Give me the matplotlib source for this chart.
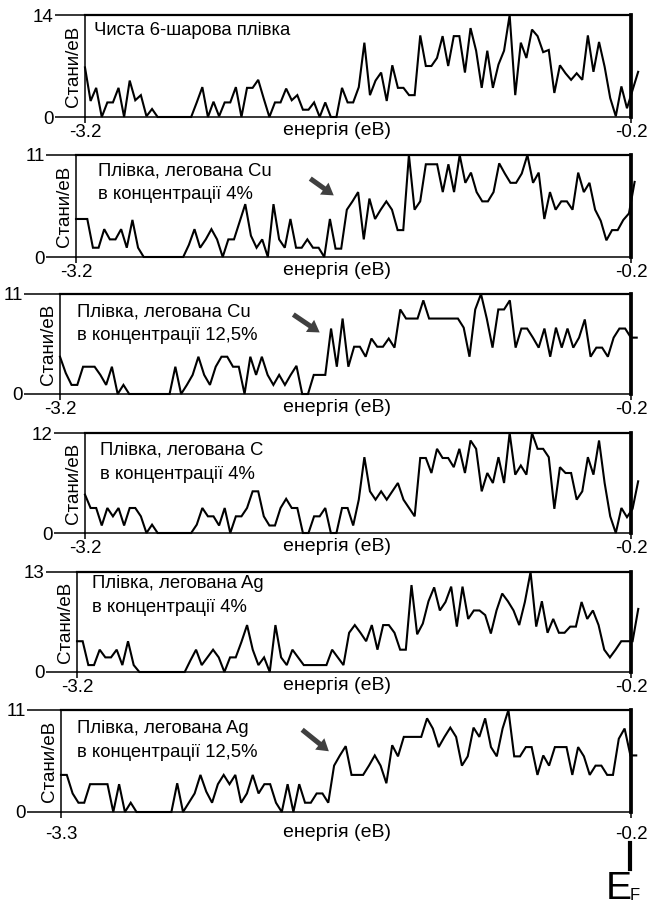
"""Density of states of a 6-layer film, clean and doped, six stacked panels."""

import numpy as np
import matplotlib
matplotlib.use("Agg")
import matplotlib.pyplot as plt
from matplotlib.lines import Line2D
from matplotlib.patches import FancyArrowPatch
from matplotlib.transforms import offset_copy

plt.rcParams["font.family"] = ["Liberation Sans", "DejaVu Sans"]

# ---- data (states/eV, one value per energy step) ----
clean = [6.8, 2.2, 4, 0, 2, 2, 4, 0, 5, 2.3, 3, 0.1, 1.1, 0, 0, 0, 0, 0, 0, 0,
         2, 4.1, 0, 2.1, 0.1, 2, 2, 4.1, 0, 4, 4, 5.1, 2.5, 0, 2, 2, 3.9, 2.3, 3, 1,
         1, 2, 0, 2, 0, 0, 4, 2, 2, 4.1, 10.2, 3, 5, 6.1, 2.2, 7.1, 4, 4, 3, 3,
         11.2, 7, 7, 8.1, 11.1, 7, 11.1, 11.1, 6.1, 12.2, 9.1, 4, 9.1, 4, 7.2, 9.1, 14, 3, 10.2, 8.1,
         12, 11.1, 8.9, 9.2, 3.3, 7.1, 6, 5.1, 6, 5.1, 11.2, 6.2, 10.3, 6.9, 2.6, 0.1, 4.2, 1.2, 3.7, 6.2]
cu_4 = [4.1, 4.1, 4.1, 1, 1, 3, 1.9, 1.9, 3, 1, 4, 1, 0, 0, 0, 0, 0, 0, 0, 0,
        1.3, 3, 1, 1.9, 3, 1.9, 0, 1.9, 1.9, 3.8, 5.7, 2.3, 1, 1.9, 0, 5.7, 1.9, 1, 4.1, 1,
        1, 1.9, 1, 1, 0, 4.1, 0.9, 0.9, 5.1, 6, 7, 1.9, 6.3, 4.1, 5.1, 6, 5.1, 2.9, 2.9, 11,
        5.1, 6, 10, 10, 10, 7, 10, 7, 11, 8, 9.1, 7, 6, 6, 7, 10.1, 9, 8, 8, 9,
        11, 8, 9.1, 4.1, 7, 5.1, 6, 6, 5.1, 9.1, 7, 8, 5.1, 3.9, 1.8, 2.9, 2.9, 4, 4.7, 8.1]
cu_12 = [4.1, 2.3, 1, 1, 3, 3, 3, 2.1, 1, 3, 0, 1, 0, 0, 0, 0, 0, 0, 0, 0,
         3, 0, 1, 2.1, 4.1, 2.1, 1, 3, 4.1, 4.1, 3, 3, 0, 4.1, 2.1, 4.1, 2.1, 1, 2.1, 1,
         2.1, 3.1, 0, 0, 2.1, 2.1, 2.1, 7.2, 3, 8.3, 3, 5.2, 5.2, 4.1, 6.1, 5.2, 5.2, 6.1, 5.1, 9.3,
         8.3, 8.3, 8.3, 10.3, 8.3, 8.3, 8.3, 8.3, 8.3, 8.3, 7.3, 4.1, 9.3, 11, 8.3, 5.1, 9.3, 9.3, 10.3, 5.1,
         7.2, 7.2, 6.2, 5.1, 7.2, 4.1, 7.3, 5.1, 7.2, 5.1, 6.2, 8.2, 4.1, 5.1, 5.1, 4.1, 6.2, 7.2, 7.2, 6.2,
         6.2]
c_4 = [4.6, 3, 3, 0.9, 3, 2, 3, 0.9, 3, 3, 2, 0, 1, 0, 0, 0, 0, 0, 0, 0,
       1, 3, 2, 2, 0.9, 3, 0, 2, 2, 3, 5, 5, 2, 0.9, 0.9, 3, 4.1, 3, 3, 0,
       0, 2, 2, 3, 0, 0, 3, 3, 0.9, 4, 9.1, 5, 4, 5, 4, 5, 6, 4, 3, 2,
       9, 9, 7.2, 10.1, 9, 9, 7.9, 10.1, 7.2, 11.1, 10.1, 5, 7.2, 6, 9.1, 6, 12, 7, 8.1, 7,
       12, 10.1, 10.1, 9.1, 2.9, 7.9, 7.2, 7.2, 4, 5, 9.1, 7, 11.1, 6, 2, 0, 3, 1.9, 2.9, 6.2]
ag_4 = [4, 4, 0.9, 0.9, 2.9, 1.9, 1.9, 2.9, 0.9, 4, 0.9, 0, 0, 0, 0, 0, 0, 0, 0, 0,
        1.5, 2.9, 0.9, 1.9, 2.9, 1.9, 0, 1.9, 1.9, 3.9, 6.1, 2.9, 0.9, 1.9, 0, 6.1, 1.9, 0.9, 2.9, 1.9,
        0.9, 0.9, 0.9, 0.9, 0.9, 2.9, 1.9, 0.9, 5.1, 6.1, 5.1, 4, 6.1, 2.9, 6.1, 6.1, 5.1, 2.9, 2.9, 11.3,
        4.9, 6.3, 9.2, 11, 8, 9.1, 11.1, 5.9, 11.1, 6.9, 8, 8, 7.4, 5, 8, 10.2, 9.2, 8, 6.1, 9.1,
        13, 5.9, 9.2, 5.1, 6.9, 5.1, 5.1, 5.9, 5.9, 9.1, 6.9, 8, 6.1, 2.9, 1.9, 2.9, 4, 4, 4, 8.2]
ag_12 = [4, 4, 2, 1, 1, 3, 3, 3, 3, 0, 3, 0, 1, 0, 0, 0, 0, 0, 0, 0,
         3.1, 0, 1, 2, 4, 2.2, 1, 3, 4, 3, 4, 1, 2, 4, 2, 3, 3, 1, 0, 3,
         0, 3, 1, 1, 2, 2, 1, 5, 6.1, 7.1, 4, 4, 4, 5, 6.1, 5, 3.1, 7.2, 6, 8.1,
         8.1, 8.1, 8.1, 10.1, 9, 7, 8.1, 9.1, 8.1, 5, 6, 9.1, 8.1, 10.1, 7, 6, 9, 11, 6, 6,
         7, 7, 4, 6.1, 5, 7, 7, 7, 4, 7, 6, 4, 5, 5, 4, 4, 7.9, 9, 6.1, 6.1]

series = [clean, cu_4, cu_12, c_4, ag_4, ag_12]
e_start = [-3.2, -3.2, -3.2, -3.2, -3.2, -3.3]
e_step = [0.0307, 0.0305, 0.0303, 0.0307, 0.0307, 0.0316]
e_end = -0.2
y_max = [14, 11, 11, 12, 13, 11]
x_ticklabels = [["-3.2", "-0.2"]] * 5 + [["-3.3", "-0.2"]]
captions = [
    ["Чиста 6-шарова плівка"],
    ["Плівка, легована Cu", "в концентрації 4%"],
    ["Плівка, легована Cu", "в концентрації 12,5%"],
    ["Плівка, легована С", "в концентрації 4%"],
    ["Плівка, легована Ag", "в концентрації 4%"],
    ["Плівка, легована Ag", "в концентрації 12,5%"],
]

# ---- layout in pixels of the 651x907 canvas ----
W, H = 651, 907
boxes = [(85, 15, 631, 117), (76, 155, 631, 257), (60, 294, 631, 394),
         (85, 433, 631, 533), (77, 572, 631, 672), (61, 710, 631, 812)]
ytick_len = [30, 30, 36, 31, 31, 34]
xlab_gap = [7, 7, 7, 7, 7, 14]
caption_xy = [(94, 35), (98, 175), (77, 316), (100, 455), (92, 588), (77, 733)]
arrows = {1: ((308, 177), (336, 197)), 2: ((291, 313), (322, 334)), 5: ((300, 728), (331, 753))}


def fx(px):
    return px / W


def fy(py):
    return 1 - py / H


fig = plt.figure(figsize=(W / 100, H / 100), dpi=100)

for k, y in enumerate(series):
    l, t, r, b = boxes[k]
    ax = fig.add_axes([fx(l), fy(b), fx(r - l), (b - t) / H])
    x = e_start[k] + e_step[k] * np.arange(len(y))
    ax.plot(x, y, color="black", lw=1.5, clip_on=False, solid_joinstyle="miter")
    ax.set_xlim(e_start[k], e_end)
    ax.set_ylim(0, y_max[k])

    ax.set_xticks([e_start[k], e_end])
    ax.set_xticklabels(x_ticklabels[k])
    ax.set_yticks([0, y_max[k]])
    ax.set_yticklabels([str(v) for v in (0, y_max[k])])
    ax.tick_params(axis="x", direction="out", length=4.3, width=1.1,
                   pad=0.7 + (xlab_gap[k] - 7) * 0.72, labelsize=13.5)
    ax.tick_params(axis="y", direction="out", length=ytick_len[k] * 0.72, width=1.1,
                   pad=1, labelsize=13.5)
    for side, lw in (("top", 1.6), ("right", 2.7), ("left", 1.1), ("bottom", 1.1)):
        ax.spines[side].set_linewidth(lw)

    ax.text(0, 0.5, "Стани/еВ", rotation=90, ha="right", va="center", fontsize=13.5,
            transform=offset_copy(ax.transAxes, fig, x=-3, y=0, units="dots"))
    fig.text(fx(337), fy(b + xlab_gap[k] - 2), "енергія (еВ)", ha="center", va="top",
             fontsize=14)

    cx, cy = caption_xy[k]
    for j, line in enumerate(captions[k]):
        fig.text(fx(cx), fy(cy + 24 * j), line, ha="left", va="baseline", fontsize=13.3)

    if k in arrows:
        (x0, y0), (x1, y1) = arrows[k]
        fig.add_artist(FancyArrowPatch(
            (fx(x0), fy(y0)), (fx(x1), fy(y1)), transform=fig.transFigure,
            arrowstyle="simple,head_length=0.6,head_width=0.75,tail_width=0.26",
            mutation_scale=14, color="#404040", lw=0))

# Fermi level marker under the last panel
fig.add_artist(Line2D([fx(630), fx(630)], [fy(843), fy(869)], color="black", lw=3,
                      transform=fig.transFigure))
narrow = ["Liberation Sans Narrow", "Liberation Sans", "DejaVu Sans"]
fig.text(fx(606), fy(899), "E", fontsize=28, ha="left", va="baseline", family=narrow)
fig.text(fx(629.5), fy(900), "F", fontsize=12, ha="left", va="baseline", family=narrow)

fig.savefig("out.png", dpi=100)
